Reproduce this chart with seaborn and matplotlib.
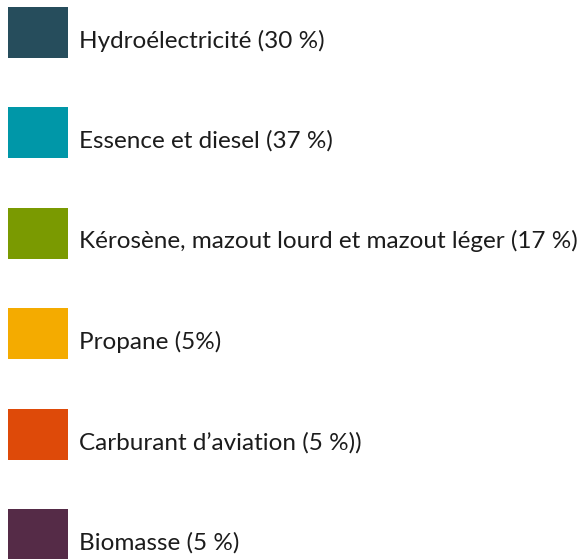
import pandas as pd
import matplotlib.pyplot as plt
import seaborn as sns

labels = ["Hydroélectricité (30 %)", "Essence et diesel (37 %)",
          "Kérosène, mazout lourd et mazout léger (17 %)", "Propane (5%)",
          "Carburant d’aviation (5 %))", "Biomasse (5 %)"]
colors = ["#264d5c", "#0097a8", "#7a9a01", "#f4ab00", "#de4a09", "#552b47"]
swatch = [1, 1, 1, 1, 1, 1]

df = pd.DataFrame({"label": labels, "swatch": swatch})

sns.set_style("white")
plt.rcParams['font.family'] = ['Lato', 'DejaVu Sans']

fig = plt.figure(figsize=(5.82, 5.59), dpi=100)
ax = fig.add_axes([0, 0, 1, 1])

sns.barplot(data=df, x="swatch", y="label", hue="label", palette=colors,
            orient="h", width=0.508, legend=False, ax=ax, saturation=1,
            linewidth=0)

for i, lab in enumerate(labels):
    ax.text(1.183, i + 0.15, lab, fontsize=17.5, color="#1c1c1c", va="baseline")

ax.set_xlim(-8 / 60, (582 - 8) / 60)
ax.set_ylim((559 - 32.5) / 100.4, -32.5 / 100.4)
ax.axis("off")

fig.savefig("out.png", dpi=100)
